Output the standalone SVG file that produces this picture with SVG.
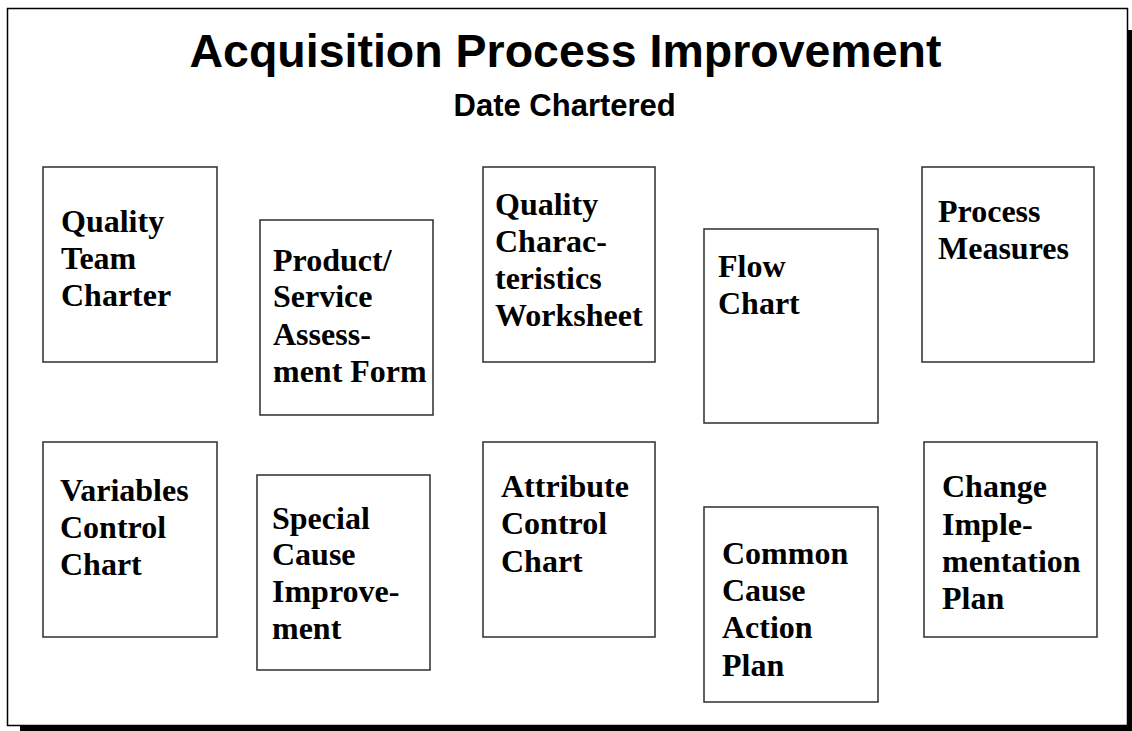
<svg xmlns="http://www.w3.org/2000/svg" width="1132" height="731" viewBox="0 0 1132 731">
  <style>
    .frame { fill: #ffffff; stroke: #000000; stroke-width: 1.5; }
    .shadow { fill: #000000; }
    .box { fill: #ffffff; stroke: #3a3a3a; stroke-width: 1.6; }
    .title { font-family: "Liberation Sans", Arial, sans-serif; font-weight: bold; font-size: 46.5px; fill: #000000; text-anchor: middle; }
    .subtitle { font-family: "Liberation Sans", Arial, sans-serif; font-weight: bold; font-size: 31px; fill: #000000; text-anchor: middle; }
    .label { font-family: "Liberation Serif", "Times New Roman", serif; font-weight: bold; font-size: 32px; fill: #000000; }
  </style>

  <!-- page background -->
  <rect x="0" y="0" width="1132" height="731" fill="#ffffff"/>

  <!-- slide frame with drop shadow -->
  <g id="slide-frame">
    <rect class="shadow" x="1128" y="30" width="4" height="701"/>
    <rect class="shadow" x="20" y="726" width="1112" height="5"/>
    <rect class="frame" x="7.5" y="8.5" width="1120" height="717"/>
  </g>

  <!-- heading -->
  <g id="heading">
    <text class="title" x="565.5" y="67">Acquisition Process Improvement</text>
    <text class="subtitle" x="564.7" y="116">Date Chartered</text>
  </g>

  <!-- no connectors between the tool boxes -->
  <g id="connectors"></g>

  <!-- top row -->
  <g id="quality-team-charter">
    <rect class="box" x="43" y="167" width="174" height="195"/>
    <text class="label" x="61"><tspan x="61" y="232">Quality</tspan><tspan x="61" y="269">Team</tspan><tspan x="61" y="306">Charter</tspan></text>
  </g>

  <g id="product-service-assessment">
    <rect class="box" x="260" y="220" width="173" height="195"/>
    <text class="label"><tspan x="273" y="271">Product/</tspan><tspan x="273" y="307">Service</tspan><tspan x="273" y="345">Assess-</tspan><tspan x="273" y="382">ment Form</tspan></text>
  </g>

  <g id="quality-characteristics-worksheet">
    <rect class="box" x="483" y="167" width="172" height="195"/>
    <text class="label"><tspan x="495" y="215">Quality</tspan><tspan x="495" y="252">Charac-</tspan><tspan x="495" y="289">teristics</tspan><tspan x="495" y="326">Worksheet</tspan></text>
  </g>

  <g id="flow-chart">
    <rect class="box" x="704" y="229" width="174" height="194"/>
    <text class="label"><tspan x="718" y="277">Flow</tspan><tspan x="718" y="314">Chart</tspan></text>
  </g>

  <g id="process-measures">
    <rect class="box" x="922" y="167" width="172" height="195"/>
    <text class="label"><tspan x="938" y="222">Process</tspan><tspan x="938" y="259">Measures</tspan></text>
  </g>

  <!-- bottom row -->
  <g id="variables-control-chart">
    <rect class="box" x="43" y="442" width="174" height="195"/>
    <text class="label"><tspan x="60" y="501">Variables</tspan><tspan x="60" y="538">Control</tspan><tspan x="60" y="575">Chart</tspan></text>
  </g>

  <g id="special-cause-improvement">
    <rect class="box" x="257" y="475" width="173" height="195"/>
    <text class="label"><tspan x="272" y="529">Special</tspan><tspan x="272" y="565">Cause</tspan><tspan x="272" y="602">Improve-</tspan><tspan x="272" y="639">ment</tspan></text>
  </g>

  <g id="attribute-control-chart">
    <rect class="box" x="483" y="442" width="172" height="195"/>
    <text class="label"><tspan x="501" y="497">Attribute</tspan><tspan x="501" y="534">Control</tspan><tspan x="501" y="572">Chart</tspan></text>
  </g>

  <g id="common-cause-action-plan">
    <rect class="box" x="704" y="507" width="174" height="195"/>
    <text class="label"><tspan x="722" y="564">Common</tspan><tspan x="722" y="601">Cause</tspan><tspan x="722" y="638">Action</tspan><tspan x="722" y="676">Plan</tspan></text>
  </g>

  <g id="change-implementation-plan">
    <rect class="box" x="924" y="442" width="173" height="195"/>
    <text class="label"><tspan x="942" y="497">Change</tspan><tspan x="942" y="535">Imple-</tspan><tspan x="942" y="572">mentation</tspan><tspan x="942" y="609">Plan</tspan></text>
  </g>
</svg>
